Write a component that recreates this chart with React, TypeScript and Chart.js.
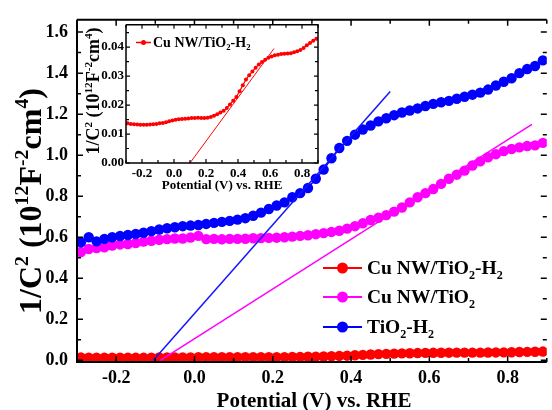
import React, { useEffect, useRef } from 'react';
import { Chart, registerables } from 'chart.js';

Chart.register(...registerables);

const FONT = "'Liberation Serif', 'Times New Roman', serif";

// ---- data ----
const POTENTIAL = [
  -0.29, -0.27, -0.25, -0.23, -0.21, -0.19, -0.17, -0.15, -0.13, -0.11, -0.09, -0.07, -0.05, -0.03, -0.01,
  0.01, 0.03, 0.05, 0.07, 0.09, 0.11, 0.13, 0.15, 0.17, 0.19, 0.21, 0.23, 0.25, 0.27, 0.29,
  0.31, 0.33, 0.35, 0.37, 0.39, 0.41, 0.43, 0.45, 0.47, 0.49, 0.51, 0.53, 0.55, 0.57, 0.59,
  0.61, 0.63, 0.65, 0.67, 0.69, 0.71, 0.73, 0.75, 0.77, 0.79, 0.81, 0.83, 0.85, 0.87, 0.89,
];
const CU_NW_TIO2_H2 = [
  0.0137, 0.0135, 0.0134, 0.0133, 0.0132, 0.0132, 0.0132, 0.0133, 0.0134, 0.0135, 0.0137, 0.0138, 0.0141, 0.0144, 0.0147,
  0.0149, 0.0151, 0.0152, 0.0153, 0.0154, 0.0155, 0.0155, 0.0156, 0.0155, 0.0155, 0.0156, 0.0159, 0.0163, 0.0168, 0.0174,
  0.018, 0.019, 0.0202, 0.0215, 0.0228, 0.0248, 0.0268, 0.0288, 0.0303, 0.0316, 0.0329, 0.034, 0.0349, 0.0356, 0.0363,
  0.0368, 0.0372, 0.0374, 0.0376, 0.0377, 0.0378, 0.0379, 0.0382, 0.0386, 0.039, 0.0397, 0.0406, 0.0414, 0.0422, 0.0429,
];
const CU_NW_TIO2 = [
  0.528, 0.543, 0.547, 0.551, 0.56, 0.565, 0.567, 0.572, 0.579, 0.583, 0.588, 0.591, 0.594, 0.594, 0.599,
  0.607, 0.591, 0.592, 0.59, 0.592, 0.592, 0.593, 0.595, 0.596, 0.597, 0.598, 0.6, 0.603, 0.607, 0.61,
  0.615, 0.62, 0.626, 0.632, 0.642, 0.654, 0.668, 0.684, 0.695, 0.708, 0.725, 0.745, 0.77, 0.795, 0.815,
  0.835, 0.86, 0.885, 0.905, 0.925, 0.95, 0.97, 0.99, 1.005, 1.02, 1.03, 1.038, 1.045, 1.048, 1.06,
];
const TIO2_H2 = [
  0.575, 0.6, 0.58, 0.592, 0.6, 0.606, 0.611, 0.616, 0.622, 0.63, 0.638, 0.644, 0.649, 0.654, 0.657,
  0.66, 0.665, 0.67, 0.675, 0.68, 0.686, 0.693, 0.705, 0.72, 0.738, 0.755, 0.77, 0.795, 0.815, 0.84,
  0.885, 0.93, 0.985, 1.035, 1.07, 1.1, 1.125, 1.145, 1.165, 1.18, 1.195, 1.208, 1.218, 1.228, 1.24,
  1.25, 1.258, 1.265, 1.275, 1.285, 1.295, 1.305, 1.32, 1.34, 1.358, 1.375, 1.4, 1.42, 1.435, 1.462,
];
// tangent (Mott-Schottky) fit lines: [x0, x1], [y0, y1]
const FIT_TIO2_H2_X = [-0.105, 0.5];
const FIT_TIO2_H2_Y = [0, 1.31];
const FIT_CU_NW_TIO2_X = [-0.087, 0.862];
const FIT_CU_NW_TIO2_Y = [0, 1.15];
const FIT_INSET_X = [0.1, 0.625];
const FIT_INSET_Y = [0, 0.0395];

const X_TICKS = [-0.2, 0.0, 0.2, 0.4, 0.6, 0.8];
const Y_TICKS = [0.0, 0.2, 0.4, 0.6, 0.8, 1.0, 1.2, 1.4, 1.6];
const INSET_Y_TICKS = [0.0, 0.01, 0.02, 0.03, 0.04];

const RED = '#ff0000';
const MAGENTA = '#ff00ff';
const BLUE = '#0000ff';

type Seg = { t: string; s?: 'sub' | 'sup' };

const Y_TITLE: Seg[] = [
  { t: '1/C' }, { t: '2', s: 'sup' }, { t: ' (10' }, { t: '12', s: 'sup' }, { t: 'F' },
  { t: '-2', s: 'sup' }, { t: 'cm' }, { t: '4', s: 'sup' }, { t: ')' },
];
const X_TITLE: Seg[] = [{ t: 'Potential (V) vs. RHE' }];
const LABEL_A: Seg[] = [{ t: 'Cu NW/TiO' }, { t: '2', s: 'sub' }, { t: '-H' }, { t: '2', s: 'sub' }];
const LABEL_B: Seg[] = [{ t: 'Cu NW/TiO' }, { t: '2', s: 'sub' }];
const LABEL_C: Seg[] = [{ t: 'TiO' }, { t: '2', s: 'sub' }, { t: '-H' }, { t: '2', s: 'sub' }];

const pts = (xs: number[], ys: number[]) => xs.map((x, i) => ({ x, y: ys[i] }));

// ---- rich text helpers ----
function segFont(size: number, s?: string) {
  const fs = s ? size * 0.62 : size;
  return `bold ${fs}px ${FONT}`;
}
function richWidth(ctx: CanvasRenderingContext2D, segs: Seg[], size: number) {
  let w = 0;
  for (const g of segs) {
    ctx.font = segFont(size, g.s);
    w += ctx.measureText(g.t).width;
  }
  return w;
}
function drawRich(ctx: CanvasRenderingContext2D, segs: Seg[], x: number, y: number, size: number, align: 'left' | 'center') {
  const w = richWidth(ctx, segs, size);
  let cx = align === 'center' ? x - w / 2 : x;
  const base = y + size * 0.33;
  ctx.textBaseline = 'alphabetic';
  ctx.textAlign = 'left';
  ctx.fillStyle = '#000';
  for (const g of segs) {
    ctx.font = segFont(size, g.s);
    const dy = g.s === 'sub' ? size * 0.22 : g.s === 'sup' ? -size * 0.4 : 0;
    ctx.fillText(g.t, cx, base + dy);
    cx += ctx.measureText(g.t).width;
  }
}

function drawFrame(chart: any, cfg: any) {
  const { ctx, chartArea: a, scales } = chart;
  const xs = scales.x;
  const ys = scales.y;
  ctx.save();
  ctx.strokeStyle = '#000';
  ctx.lineWidth = cfg.tw;
  ctx.beginPath();
  const xn = Math.round((xs.max - xs.min) / cfg.xMinor);
  for (let i = 0; i <= xn + 1; i++) {
    const k = Math.ceil(xs.min / cfg.xMinor - 1e-6) + i;
    const v = k * cfg.xMinor;
    if (v > xs.max + 1e-9) break;
    const major = Math.abs(v / cfg.xMajor - Math.round(v / cfg.xMajor)) < 1e-6;
    const len = major ? cfg.major : cfg.minor;
    const px = xs.getPixelForValue(v);
    ctx.moveTo(px, a.bottom);
    ctx.lineTo(px, a.bottom - len);
    ctx.moveTo(px, a.top);
    ctx.lineTo(px, a.top + len);
  }
  const yn = Math.round((ys.max - ys.min) / cfg.yMinor);
  for (let i = 0; i <= yn + 1; i++) {
    const k = Math.ceil(ys.min / cfg.yMinor - 1e-6) + i;
    const v = k * cfg.yMinor;
    if (v > ys.max + 1e-9) break;
    const major = Math.abs(v / cfg.yMajor - Math.round(v / cfg.yMajor)) < 1e-6;
    const len = major ? cfg.major : cfg.minor;
    const py = ys.getPixelForValue(v);
    ctx.moveTo(a.left, py);
    ctx.lineTo(a.left + len, py);
    ctx.moveTo(a.right, py);
    ctx.lineTo(a.right - len, py);
  }
  ctx.stroke();
  ctx.lineWidth = cfg.lw;
  ctx.beginPath();
  ctx.moveTo(a.left, a.top);
  ctx.lineTo(a.left, a.bottom);
  ctx.lineTo(a.right, a.bottom);
  if (cfg.rightBorder) ctx.lineTo(a.right, a.top);
  else ctx.moveTo(a.right, a.top);
  ctx.lineTo(a.left, a.top);
  ctx.stroke();
  ctx.restore();
}

function legendRow(ctx: CanvasRenderingContext2D, x0: number, x1: number, y: number, r: number, color: string, lw: number, segs: Seg[], tx: number, size: number) {
  ctx.save();
  ctx.strokeStyle = color;
  ctx.lineWidth = lw;
  ctx.beginPath();
  ctx.moveTo(x0, y);
  ctx.lineTo(x1, y);
  ctx.stroke();
  ctx.fillStyle = color;
  ctx.beginPath();
  ctx.arc((x0 + x1) / 2, y, r, 0, Math.PI * 2);
  ctx.fill();
  drawRich(ctx, segs, tx, y, size, 'left');
  ctx.restore();
}

const mainDecor = {
  id: 'mainDecor',
  afterDraw(chart: any) {
    const ctx = chart.ctx;
    drawFrame(chart, { xMinor: 0.1, xMajor: 0.2, yMinor: 0.1, yMajor: 0.2, major: 6, minor: 4, tw: 1.5, lw: 2, rightBorder: false });
    ctx.save();
    ctx.translate(30, 201);
    ctx.rotate(-Math.PI / 2);
    drawRich(ctx, Y_TITLE, 0, 0, 32, 'center');
    ctx.restore();
    ctx.save();
    drawRich(ctx, X_TITLE, 314, 400, 21, 'center');
    ctx.restore();
    legendRow(ctx, 323, 362, 268, 5.5, RED, 2, LABEL_A, 367, 19.5);
    legendRow(ctx, 323, 362, 297, 5.5, MAGENTA, 2, LABEL_B, 367, 19.5);
    legendRow(ctx, 323, 362, 327, 5.5, BLUE, 2, LABEL_C, 367, 19.5);
  },
};

const insetDecor = {
  id: 'insetDecor',
  beforeDatasetsDraw(chart: any) {
    const { ctx, chartArea: a } = chart;
    ctx.save();
    ctx.fillStyle = '#fff';
    ctx.fillRect(a.left, a.top, a.right - a.left, a.bottom - a.top);
    ctx.restore();
  },
  afterDraw(chart: any) {
    const ctx = chart.ctx;
    drawFrame(chart, { xMinor: 0.1, xMajor: 0.2, yMinor: 0.005, yMajor: 0.01, major: 4, minor: 3, tw: 1.2, lw: 1.5, rightBorder: true });
    ctx.save();
    ctx.translate(13, 76);
    ctx.rotate(-Math.PI / 2);
    drawRich(ctx, Y_TITLE, 0, 0, 18, 'center');
    ctx.restore();
    drawRich(ctx, X_TITLE, 142, 170, 13, 'center');
    legendRow(ctx, 56, 71, 27.5, 2.5, RED, 1.5, LABEL_A, 73, 14);
  },
};

export default function App() {
  const mainRef = useRef<HTMLCanvasElement>(null);
  const insetRef = useRef<HTMLCanvasElement>(null);

  useEffect(() => {
    document.body.style.margin = '0';
    const tickFont = (size: number) => ({ family: FONT, size, weight: 'bold' as const });

    const main = new Chart(mainRef.current!, {
      type: 'scatter',
      data: {
        datasets: [
          { label: 'fit TiO2-H2', data: pts(FIT_TIO2_H2_X, FIT_TIO2_H2_Y), showLine: true, borderColor: '#1414ff', borderWidth: 1.5, pointRadius: 0 },
          { label: 'fit Cu NW/TiO2', data: pts(FIT_CU_NW_TIO2_X, FIT_CU_NW_TIO2_Y), showLine: true, borderColor: MAGENTA, borderWidth: 1.5, pointRadius: 0 },
          { label: 'Cu NW/TiO2-H2', data: pts(POTENTIAL, CU_NW_TIO2_H2), showLine: true, borderColor: RED, backgroundColor: RED, borderWidth: 1.5, pointRadius: 5.2, pointBorderWidth: 0 },
          { label: 'TiO2-H2', data: pts(POTENTIAL, TIO2_H2), showLine: true, borderColor: BLUE, backgroundColor: BLUE, borderWidth: 1.5, pointRadius: 5.2, pointBorderWidth: 0 },
          { label: 'Cu NW/TiO2', data: pts(POTENTIAL, CU_NW_TIO2), showLine: true, borderColor: MAGENTA, backgroundColor: MAGENTA, borderWidth: 1.5, pointRadius: 5.2, pointBorderWidth: 0 },
        ],
      },
      options: {
        responsive: false,
        animation: false,
        devicePixelRatio: 1,
        events: [],
        layout: { padding: { top: 13, right: 0, left: 0, bottom: 0 } },
        plugins: { legend: { display: false }, tooltip: { enabled: false } },
        scales: {
          x: {
            type: 'linear', min: -0.3, max: 0.9,
            afterBuildTicks: (s: any) => { s.ticks = X_TICKS.map((v) => ({ value: v })); },
            afterFit: (s: any) => { s.height = 48; },
            grid: { display: false, drawTicks: false },
            border: { display: false },
            ticks: { font: tickFont(18), color: '#000', padding: 6, maxRotation: 0, autoSkip: false, callback: (v: any) => Number(v).toFixed(1) },
          },
          y: {
            type: 'linear', min: -0.008, max: 1.66,
            afterBuildTicks: (s: any) => { s.ticks = Y_TICKS.map((v) => ({ value: v })); },
            afterFit: (s: any) => { s.width = 77; },
            grid: { display: false, drawTicks: false },
            border: { display: false },
            ticks: { font: tickFont(18), color: '#000', padding: 9, autoSkip: false, callback: (v: any) => Number(v).toFixed(1) },
          },
        },
      },
      plugins: [mainDecor],
    });

    const inset = new Chart(insetRef.current!, {
      type: 'scatter',
      data: {
        datasets: [
          { label: 'fit', data: pts(FIT_INSET_X, FIT_INSET_Y), showLine: true, borderColor: RED, borderWidth: 1, pointRadius: 0 },
          { label: 'Cu NW/TiO2-H2', data: pts(POTENTIAL, CU_NW_TIO2_H2), showLine: true, borderColor: RED, backgroundColor: RED, borderWidth: 1.2, pointRadius: 2, pointBorderWidth: 0 },
        ],
      },
      options: {
        responsive: false,
        animation: false,
        devicePixelRatio: 1,
        events: [],
        layout: { padding: { top: 8, right: 4, left: 0, bottom: 0 } },
        plugins: { legend: { display: false }, tooltip: { enabled: false } },
        scales: {
          x: {
            type: 'linear', min: -0.3, max: 0.9,
            afterBuildTicks: (s: any) => { s.ticks = X_TICKS.map((v) => ({ value: v })); },
            afterFit: (s: any) => { s.height = 32; },
            grid: { display: false, drawTicks: false },
            border: { display: false },
            ticks: { font: tickFont(13), color: '#000', padding: 3, maxRotation: 0, autoSkip: false, callback: (v: any) => Number(v).toFixed(1) },
          },
          y: {
            type: 'linear', min: 0, max: 0.0477,
            afterBuildTicks: (s: any) => { s.ticks = INSET_Y_TICKS.map((v) => ({ value: v })); },
            afterFit: (s: any) => { s.width = 46; },
            grid: { display: false, drawTicks: false },
            border: { display: false },
            ticks: { font: tickFont(13), color: '#000', padding: 2, autoSkip: false, callback: (v: any) => Number(v).toFixed(2) },
          },
        },
      },
      plugins: [insetDecor],
    });

    return () => {
      main.destroy();
      inset.destroy();
    };
  }, []);

  return (
    <div style={{ position: 'relative', width: 552, height: 410, background: '#fff', overflow: 'hidden' }}>
      <canvas ref={mainRef} width={552} height={410} style={{ position: 'absolute', left: 0, top: 0, width: 552, height: 410 }} />
      <canvas ref={insetRef} width={242} height={180} style={{ position: 'absolute', left: 80, top: 15, width: 242, height: 180 }} />
    </div>
  );
}
